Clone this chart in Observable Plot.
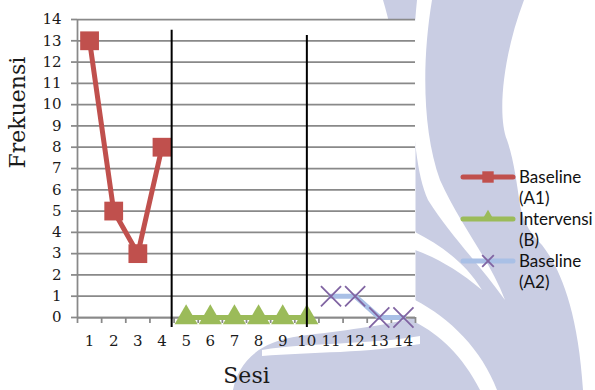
<!DOCTYPE html>
<html>
<head>
<meta charset="utf-8">
<script src="https://cdn.jsdelivr.net/npm/d3@7"></script>
<script src="https://cdn.jsdelivr.net/npm/@observablehq/plot@0.6"></script>
<style>
  html, body { margin: 0; padding: 0; background: #fff; }
  #chart { position: relative; width: 595px; height: 390px; overflow: hidden; }
  #wm, #plot, #legend { position: absolute; left: 0; top: 0; }
  #legend { width: 595px; height: 390px; font-family: Lato, sans-serif; font-size: 17px; color: #111; }
  .item { position: absolute; left: 460px; display: flex; align-items: flex-start; }
  .item svg { flex: none; }
  .item .txt { width: 76px; margin-left: 3px; line-height: 21px; }
</style>
</head>
<body>
<div id="chart">
  <!-- background emblem -->
  <svg id="wm" width="595" height="390" viewBox="0 0 595 390">
    <path fill="#c9cde3" d="M383 0 L595 0 L595 390 L233 390 C238 365 255 342 300 336 C340 331 385 326 415 317 L415 200 C405 100 395 40 383 0 Z"/>
    <g fill="#fff">
      <path d="M417 0 L432 0 C422 60 422 130 440 180 C460 225 490 260 505 300 C480 265 450 235 428 200 C410 160 410 70 417 0 Z"/>
      <path d="M415 232 C440 245 465 262 482 290 C458 270 437 258 415 250 Z"/>
      <path d="M415 300 C450 318 482 350 497 390 L480 390 C462 355 440 335 415 322 Z"/>
      <path d="M524 0 C503 55 497 115 507 140 C514 160 517 185 520 205 C524 225 532 235 542 245 C560 268 578 310 583 390 L595 390 L595 0 Z"/>
      <path d="M262 350 C310 342 370 345 420 336 L420 344 C370 353 310 352 262 356 Z"/>
    </g>
  </svg>
  <div id="plot"></div>
  <div id="legend"></div>
</div>
<script>
// Sessions and observed frequencies per phase
const sesi = d3.range(1, 15);
const sesiA1 = [1, 2, 3, 4];
const baselineA1 = [13, 5, 3, 8];
const sesiB = [5, 6, 7, 8, 9, 10];
const intervensiB = [0, 0, 0, 0, 0, 0];
const sesiA2 = [11, 12, 13, 14];
const baselineA2 = [1, 1, 0, 0];
const yTicks = d3.range(0, 15);

// Phase-change lines (session position, top value)
const phaseAt = [4.4, 10];
const phaseTop = [13.5, 13.25];

const seriesNames = ["Baseline (A1)", "Intervensi (B)", "Baseline (A2)"];
const lineColors = ["#C0504D", "#9BBB59", "#A9C0E6"];
const markColors = ["#C0504D", "#9BBB59", "#8064A2"];

const rows = (xs, ys) => xs.map((s, i) => ({sesi: s, frekuensi: ys[i]}));
const a1 = rows(sesiA1, baselineA1);
const b = rows(sesiB, intervensiB);
const a2 = rows(sesiA2, baselineA2);
const phases = phaseAt.map((s, i) => ({sesi: s, top: phaseTop[i]}));
const tickBounds = d3.range(0, 15).map(i => i + 0.5);

const grey = "#898989";
const serif = "DejaVu Serif, serif";

const chart = Plot.plot({
  width: 595,
  height: 390,
  marginLeft: 77,
  marginRight: 180,
  marginTop: 19,
  marginBottom: 73,
  style: {background: "transparent", color: "#1a1a1a", fontFamily: serif, overflow: "visible"},
  x: {domain: [0.5, 14.5]},
  y: {domain: [0, 14]},
  marks: [
    Plot.frame({fill: "white", stroke: "none"}),
    Plot.gridY(yTicks, {stroke: grey, strokeOpacity: 1, strokeWidth: 1.75}),
    Plot.axisY(yTicks, {tickSize: 6, tickPadding: 10, stroke: grey, strokeWidth: 1.75, fontSize: 15, fontFamily: serif, label: null}),
    Plot.ruleX([0.5], {stroke: grey, strokeWidth: 1.75}),
    Plot.ruleY([0], {stroke: grey, strokeWidth: 1.75}),
    Plot.axisX(tickBounds, {tickSize: 6, stroke: grey, strokeWidth: 1.75, tickFormat: () => "", label: null}),
    Plot.axisX(sesi, {tickSize: 0, tickPadding: 18, fontSize: 15, fontFamily: serif, label: null}),
    Plot.line(a1, {x: "sesi", y: "frekuensi", stroke: lineColors[0], strokeWidth: 5}),
    Plot.dot(a1, {x: "sesi", y: "frekuensi", symbol: "square", r: 10.6, fill: markColors[0], stroke: "none"}),
    Plot.line(b, {x: "sesi", y: "frekuensi", stroke: lineColors[1], strokeWidth: 5}),
    Plot.dot(b, {x: "sesi", y: "frekuensi", symbol: "triangle", r: 8.6, fill: markColors[1], stroke: "none"}),
    Plot.line(a2, {x: "sesi", y: "frekuensi", stroke: lineColors[2], strokeWidth: 5}),
    Plot.dot(a2, {x: "sesi", y: "frekuensi", symbol: "times", r: 9.2, stroke: markColors[2], strokeWidth: 1.8}),
    Plot.ruleX(phases, {x: "sesi", y1: -0.47, y2: "top", stroke: "#000", strokeWidth: 2}),
    Plot.text(["Frekuensi"], {frameAnchor: "left", dx: -60, rotate: -90, fontSize: 22, fontFamily: serif, lineAnchor: "middle"}),
    Plot.text(["Sesi"], {frameAnchor: "bottom", dy: 58, fontSize: 22, fontFamily: serif, lineAnchor: "middle"})
  ]
});
document.getElementById("plot").append(chart);

// Legend: line swatch with marker, wrapped label
const legend = document.getElementById("legend");
const ns = "http://www.w3.org/2000/svg";
const legendTops = [166, 208, 250];
const symbols = ["square", "triangle", "times"];
seriesNames.forEach((name, i) => {
  const item = document.createElement("div");
  item.className = "item";
  item.style.top = legendTops[i] + "px";
  const svg = document.createElementNS(ns, "svg");
  svg.setAttribute("width", 56);
  svg.setAttribute("height", 22);
  const ln = document.createElementNS(ns, "line");
  ln.setAttribute("x1", 3); ln.setAttribute("x2", 53);
  ln.setAttribute("y1", 11); ln.setAttribute("y2", 11);
  ln.setAttribute("stroke", lineColors[i]);
  ln.setAttribute("stroke-width", 5);
  ln.setAttribute("stroke-linecap", "round");
  svg.append(ln);
  const mk = document.createElementNS(ns, "path");
  const sym = {square: d3.symbolSquare, triangle: d3.symbolTriangle, times: d3.symbolTimes}[symbols[i]];
  const size = {square: 130, triangle: 70, times: 90}[symbols[i]];
  mk.setAttribute("d", d3.symbol(sym, size)());
  mk.setAttribute("transform", `translate(28,${symbols[i] === "triangle" ? 9 : 11})`);
  if (symbols[i] === "times") {
    mk.setAttribute("fill", "none");
    mk.setAttribute("stroke", markColors[i]);
    mk.setAttribute("stroke-width", 1.8);
  } else {
    mk.setAttribute("fill", markColors[i]);
  }
  svg.append(mk);
  const txt = document.createElement("div");
  txt.className = "txt";
  txt.textContent = name;
  item.append(svg, txt);
  legend.append(item);
});
</script>
</body>
</html>
